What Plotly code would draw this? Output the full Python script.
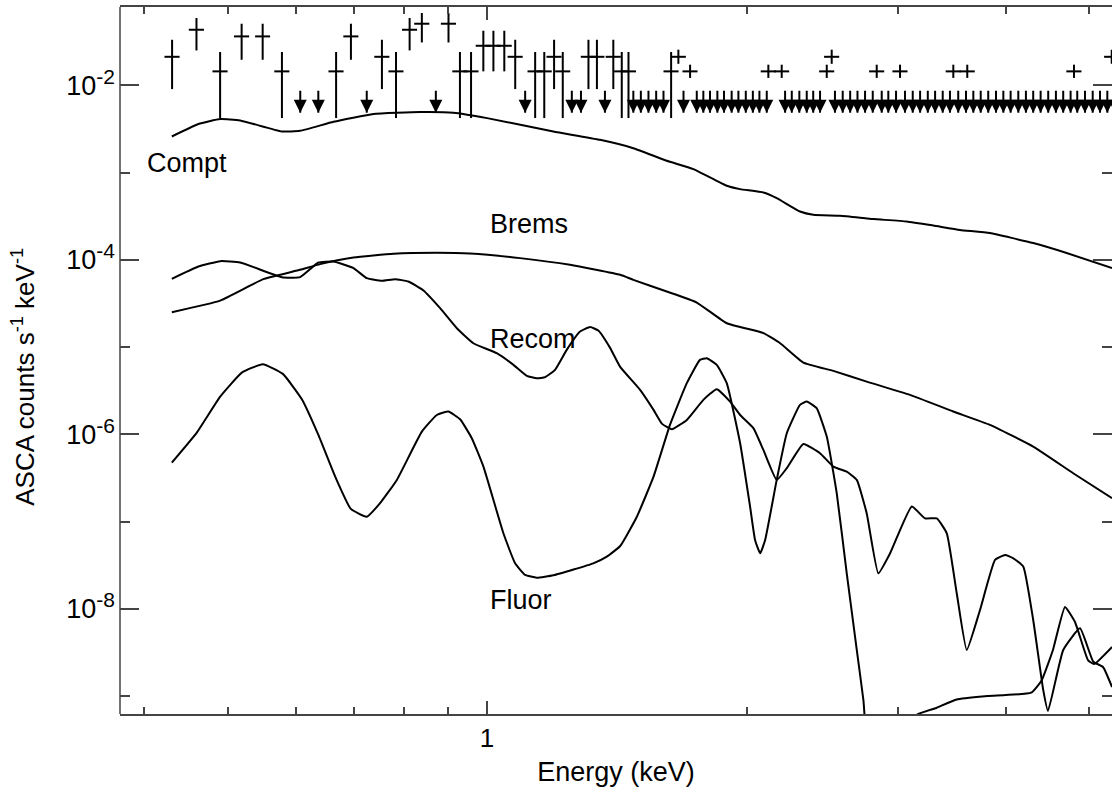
import math
import plotly.graph_objects as go

# ---------------- data ----------------
# model curves: energy (keV) and ASCA counts s^-1 keV^-1
compt_E = [0.4307, 0.4624, 0.4901, 0.5170, 0.5778, 0.6067, 0.6634, 0.7380, 0.8362, 0.9141, 1.0,
           1.1937, 1.352, 1.478, 1.616, 1.735, 1.897, 1.966, 2.092, 2.168, 2.307, 2.390, 2.568,
           2.807, 3.068, 3.294, 3.538, 3.832, 4.302, 4.704, 5.311]
compt_v = [2.60e-3, 3.61e-3, 4.12e-3, 3.97e-3, 2.97e-3, 3.02e-3, 3.83e-3, 4.70e-3, 4.95e-3, 4.86e-3, 4.22e-3,
           2.97e-3, 2.38e-3, 1.91e-3, 1.37e-3, 1.10e-3, 7.08e-4, 6.48e-4, 5.93e-4, 5.11e-4, 3.59e-4, 3.29e-4, 3.20e-4,
           2.94e-4, 2.76e-4, 2.48e-4, 2.21e-4, 2.03e-4, 1.56e-4, 1.20e-4, 8.05e-5]

brems_E = [0.4307, 0.4901, 0.5500, 0.6067, 0.6401, 0.6998, 0.7784, 0.8743, 0.9556, 1.092, 1.248, 1.427,
           1.478, 1.616, 1.751, 1.897, 2.092, 2.188, 2.328, 2.522, 2.757, 3.095, 3.475, 3.832, 4.302,
           4.787, 5.311]
brems_v = [2.52e-5, 3.42e-5, 6.02e-5, 7.70e-5, 8.95e-5, 1.065e-4, 1.175e-4, 1.206e-4, 1.184e-4, 1.049e-4,
           8.78e-5, 6.75e-5, 5.91e-5, 4.34e-5, 3.25e-5, 1.88e-5, 1.45e-5, 1.11e-5, 6.66e-6, 5.35e-6,
           4.03e-6, 2.84e-6, 1.83e-6, 1.285e-6, 7.24e-7, 3.59e-7, 1.855e-7]

recom_E = [0.4307, 0.4624, 0.4901, 0.5170, 0.5778, 0.6067, 0.6371, 0.6634, 0.6998, 0.7250, 0.7549, 0.7821,
           0.8102, 0.8436, 0.8820, 0.9223, 0.9640, 1.026, 1.073, 1.112, 1.142, 1.168, 1.199, 1.237, 1.282,
           1.317, 1.346, 1.389, 1.427, 1.505, 1.560, 1.596, 1.638, 1.705, 1.782, 1.847, 1.914, 1.966,
           2.037, 2.092, 2.168, 2.227, 2.328, 2.434, 2.522, 2.614, 2.685, 2.757, 2.844, 2.935, 3.110,
           3.222, 3.325, 3.415, 3.507, 3.602, 3.732, 3.885, 3.991, 4.080, 4.190, 4.302, 4.419, 4.475,
           4.661, 4.875, 5.051, 5.184, 5.311]
recom_v = [6.07e-5, 8.40e-5, 9.69e-5, 9.34e-5, 6.35e-5, 6.35e-5, 9.34e-5, 9.59e-5, 8.05e-5, 6.18e-5, 5.76e-5,
           6.02e-5, 5.65e-5, 4.46e-5, 2.80e-5, 1.65e-5, 1.11e-5, 8.53e-6, 6.27e-6, 4.69e-6, 4.39e-6,
           4.54e-6, 5.49e-6, 9.31e-6, 1.51e-5, 1.70e-5, 1.55e-5, 9.82e-6, 5.94e-6, 3.24e-6, 1.91e-6,
           1.32e-6, 1.147e-6, 1.466e-6, 2.49e-6, 3.30e-6, 2.38e-6, 1.67e-6, 1.18e-6, 6.64e-7, 3.01e-7,
           4.10e-7, 7.78e-7, 6.09e-7, 4.27e-7, 3.74e-7, 3.01e-7, 1.25e-7, 2.56e-8, 4.34e-8, 1.49e-7,
           1.09e-7, 1.09e-7, 7.36e-8, 1.51e-8, 3.38e-9, 9.71e-9, 3.64e-8, 4.15e-8, 3.80e-8, 3.05e-8,
           7.46e-9, 1.17e-9, 6.75e-10, 3.38e-9, 5.99e-9, 2.48e-9, 2.16e-9, 1.27e-9]

fluor_E = [0.4307, 0.4604, 0.4901, 0.5193, 0.5492, 0.5794, 0.6096, 0.6371, 0.6664, 0.6948, 0.7250, 0.7513,
           0.7857, 0.8400, 0.8743, 0.9018, 0.9304, 0.9599, 0.9902, 1.0445, 1.0777, 1.107, 1.142, 1.194,
           1.328, 1.377, 1.427, 1.492, 1.560, 1.630, 1.705, 1.766, 1.798, 1.847, 1.897, 1.966, 2.019,
           2.046, 2.074, 2.102, 2.168, 2.227, 2.307, 2.349, 2.412, 2.478, 2.545, 2.614, 2.685, 2.733,
           2.78, 3.10, 3.154, 3.320, 3.507, 3.804, 4.279, 4.398, 4.535, 4.683, 4.810, 4.980, 5.061, 5.311]
fluor_v = [4.75e-7, 1.049e-6, 2.71e-6, 5.11e-6, 6.38e-6, 4.94e-6, 2.53e-6, 9.87e-7, 3.28e-7, 1.40e-7,
           1.14e-7, 1.63e-7, 3.01e-7, 1.076e-6, 1.67e-6, 1.83e-6, 1.49e-6, 9.05e-7, 4.27e-7, 7.36e-8,
           3.33e-8, 2.45e-8, 2.28e-8, 2.43e-8, 3.33e-8, 3.97e-8, 5.26e-8, 1.14e-7, 3.28e-7, 1.285e-6,
           3.87e-6, 7.15e-6, 7.48e-6, 6.27e-6, 3.87e-6, 7.93e-7, 1.49e-7, 6.17e-8, 4.34e-8, 6.17e-8,
           3.01e-7, 1.032e-6, 2.18e-6, 2.38e-6, 2.00e-6, 9.44e-7, 2.12e-7, 2.56e-8, 3.38e-9, 9.02e-10,
           2.0e-10, 4.0e-10, 6.12e-10, 7.32e-10, 9.17e-10, 1.002e-9, 1.096e-9, 1.50e-9, 3.38e-9,
           1.051e-8, 7.08e-9, 2.59e-9, 2.33e-9, 3.66e-9]

# data points with error bars
pt_E = [0.431, 0.460, 0.490, 0.519, 0.549, 0.578, 0.668, 0.695, 0.755, 0.784, 0.813, 0.840, 0.902, 0.930,
        0.958, 0.990, 1.017, 1.047, 1.078, 1.137, 1.165, 1.196, 1.224, 1.311, 1.341, 1.401, 1.433, 1.459,
        1.635, 1.667, 1.720, 2.120, 2.197, 2.478, 2.511, 2.832, 3.014, 3.475, 3.607, 4.797, 5.306]
pt_dE = [0.0087, 0.0093, 0.0099, 0.0105, 0.011, 0.0117, 0.0135, 0.014, 0.0152, 0.0158, 0.0164, 0.017, 0.0182,
         0.0188, 0.0193, 0.020, 0.0205, 0.0211, 0.0218, 0.023, 0.0235, 0.0241, 0.0247, 0.0265, 0.0271,
         0.0283, 0.029, 0.0295, 0.033, 0.0337, 0.0347, 0.0428, 0.0444, 0.050, 0.0507, 0.0572, 0.0609,
         0.0702, 0.0729, 0.0969, 0.107]
pt_y = [0.0213, 0.0435, 0.0145, 0.0365, 0.0365, 0.0145, 0.0145, 0.0365, 0.0213, 0.0145, 0.0435, 0.0510,
        0.0510, 0.0145, 0.0145, 0.0285, 0.0285, 0.0285, 0.0213, 0.0145, 0.0145, 0.0213, 0.0145, 0.0213,
        0.0213, 0.0213, 0.0145, 0.0145, 0.0145, 0.0213, 0.0145, 0.0145, 0.0145, 0.0145, 0.0213, 0.0145,
        0.0145, 0.0145, 0.0145, 0.0145, 0.0213]
pt_hi = [0.0334, 0.0593, 0.0242, 0.0510, 0.0510, 0.0242, 0.0242, 0.0510, 0.0334, 0.0242, 0.0593, 0.0677,
         0.0677, 0.0242, 0.0242, 0.0424, 0.0424, 0.0424, 0.0334, 0.0242, 0.0242, 0.0334, 0.0242, 0.0334,
         0.0334, 0.0334, 0.0242, 0.0242, 0.0242, 0.0257, 0.0173, 0.0173, 0.0173, 0.0173, 0.0257, 0.0173,
         0.0173, 0.0173, 0.0173, 0.0173, 0.0257]
pt_lo = [0.00909, 0.0252, 0.00423, 0.0197, 0.0197, 0.00423, 0.00423, 0.0197, 0.00909, 0.00423, 0.0252,
         0.0311, 0.0311, 0.00423, 0.00423, 0.0145, 0.0145, 0.0145, 0.00909, 0.00423, 0.00423, 0.00909,
         0.00423, 0.00909, 0.00909, 0.00909, 0.00423, 0.00423, 0.00423, 0.0177, 0.0122, 0.0122, 0.0122,
         0.0122, 0.0177, 0.0122, 0.0122, 0.0122, 0.0122, 0.0122, 0.0177]

# upper limits (keV) and their level
ul_E = [0.607, 0.637, 0.725, 0.872, 1.107, 1.254, 1.285, 1.370,
        1.478, 1.508, 1.539, 1.571, 1.602, 1.690, 1.751, 1.782, 1.814, 1.850, 1.883, 1.922, 1.957,
        1.996, 2.034, 2.070, 2.111, 2.217, 2.257, 2.303, 2.349, 2.390, 2.434, 2.533, 2.586, 2.638,
        2.690, 2.745, 2.802, 2.870, 2.921, 2.982, 3.054, 3.118, 3.180, 3.246, 3.310, 3.378, 3.444,
        3.521, 3.595, 3.666, 3.739, 3.815, 3.895, 3.972, 4.050, 4.134, 4.219, 4.302, 4.388, 4.478,
        4.571, 4.661, 4.754, 4.839, 4.940, 5.043, 5.142, 5.244, 5.35]
ul_v = [8.7e-3] * len(ul_E)

# curve labels
label_text = ["Compt", "Brems", "Recom", "Fluor"]
label_E = [0.401, 1.003, 1.003, 1.003]
label_v = [1.28e-3, 2.61e-4, 1.25e-5, 1.25e-8]

x_range_keV = [0.375, 5.31]
y_range = [6.24e-10, 7.93e-2]
y_major = [1e-2, 1e-4, 1e-6, 1e-8]
y_major_exp = ["-2", "-4", "-6", "-8"]
y_minor = [1e-3, 1e-5, 1e-7, 1e-9]
x_major = [1]
x_major_text = ["1"]
x_minor = [0.4, 0.5, 0.6, 0.7, 0.8, 0.9, 2, 3, 4, 5]

# ---------------- figure ----------------
FONT = "Liberation Sans, Arial, Helvetica, sans-serif"
AX = "#444444"
ARROW_FACTOR = 0.56
LINE = dict(color="black", width=2, shape="spline", smoothing=0.4)

fig = go.Figure()
for E, v in [(compt_E, compt_v), (brems_E, brems_v), (recom_E, recom_v), (fluor_E, fluor_v)]:
    fig.add_trace(go.Scatter(x=E, y=v, mode="lines", line=LINE, showlegend=False, hoverinfo="skip"))

fig.add_trace(go.Scatter(
    x=pt_E, y=pt_y, mode="markers", marker=dict(size=1, color="rgba(0,0,0,0)"),
    error_y=dict(type="data", symmetric=False,
                 array=[h - y for h, y in zip(pt_hi, pt_y)],
                 arrayminus=[y - l for y, l in zip(pt_y, pt_lo)],
                 color="black", thickness=2, width=0),
    error_x=dict(type="data", array=pt_dE, color="black", thickness=2, width=0),
    showlegend=False, hoverinfo="skip"))

tips = [u * ARROW_FACTOR for u in ul_v]
fig.add_trace(go.Scatter(
    x=ul_E, y=ul_v, mode="markers", marker=dict(size=1, color="rgba(0,0,0,0)"),
    error_y=dict(type="data", symmetric=False, array=[0] * len(ul_v),
                 arrayminus=[u - t for u, t in zip(ul_v, tips)],
                 color="black", thickness=2, width=0),
    showlegend=False, hoverinfo="skip"))
fig.add_trace(go.Scatter(
    x=ul_E, y=tips, mode="markers",
    marker=dict(symbol="arrow-down", size=13, color="black", line=dict(width=0)),
    showlegend=False, hoverinfo="skip"))

for t, e, v in zip(label_text, label_E, label_v):
    fig.add_annotation(x=math.log10(e), y=math.log10(v), xref="x", yref="y", text=t,
                       showarrow=False, xanchor="left", yanchor="middle",
                       font=dict(family=FONT, size=27, color="black"))

# y-axis title
fig.add_annotation(x=-0.097, y=0.4767, xref="paper", yref="paper",
                   text="ASCA counts s<sup>-1</sup> keV<sup>-1</sup>", textangle=-90,
                   showarrow=False, xanchor="center", yanchor="middle",
                   font=dict(family=FONT, size=26, color="black"))

# left axis line (the right side is cut off in the reference)
fig.add_shape(type="line", xref="paper", yref="paper", x0=0, x1=0, y0=0, y1=1,
              line=dict(color=AX, width=1.5))

y_major_text = ["10<sup><span style='font-size:21px'>%s</span></sup>" % e for e in y_major_exp]

fig.update_layout(
    width=1112, height=794,
    margin=dict(l=120, r=0, t=7, b=80),
    paper_bgcolor="white", plot_bgcolor="white",
    font=dict(family=FONT, size=26, color="black"),
    showlegend=False,
    xaxis=dict(type="log", range=[math.log10(x_range_keV[0]), math.log10(x_range_keV[1])],
               showgrid=False, zeroline=False, showline=True, linecolor=AX, linewidth=1.5,
               mirror="ticks", ticks="inside", ticklen=13, tickwidth=1.5, tickcolor=AX,
               tickvals=x_major, ticktext=x_major_text, tickfont=dict(size=26),
               minor=dict(tickvals=x_minor, ticks="inside", ticklen=7, tickwidth=1.5, tickcolor=AX,
                          showgrid=False),
               title=dict(text="Energy (keV)", font=dict(size=27), standoff=10)),
    yaxis=dict(type="log", range=[math.log10(y_range[0]), math.log10(y_range[1])],
               showgrid=False, zeroline=False, showline=False,
               mirror="ticks", ticks="inside", ticklen=19, tickwidth=1.5, tickcolor=AX,
               tickvals=y_major, ticktext=y_major_text, tickfont=dict(size=27),
               ticklabelstandoff=4,
               minor=dict(tickvals=y_minor, ticks="inside", ticklen=10, tickwidth=1.5, tickcolor=AX,
                          showgrid=False)),
)

fig.write_html("out.html")
